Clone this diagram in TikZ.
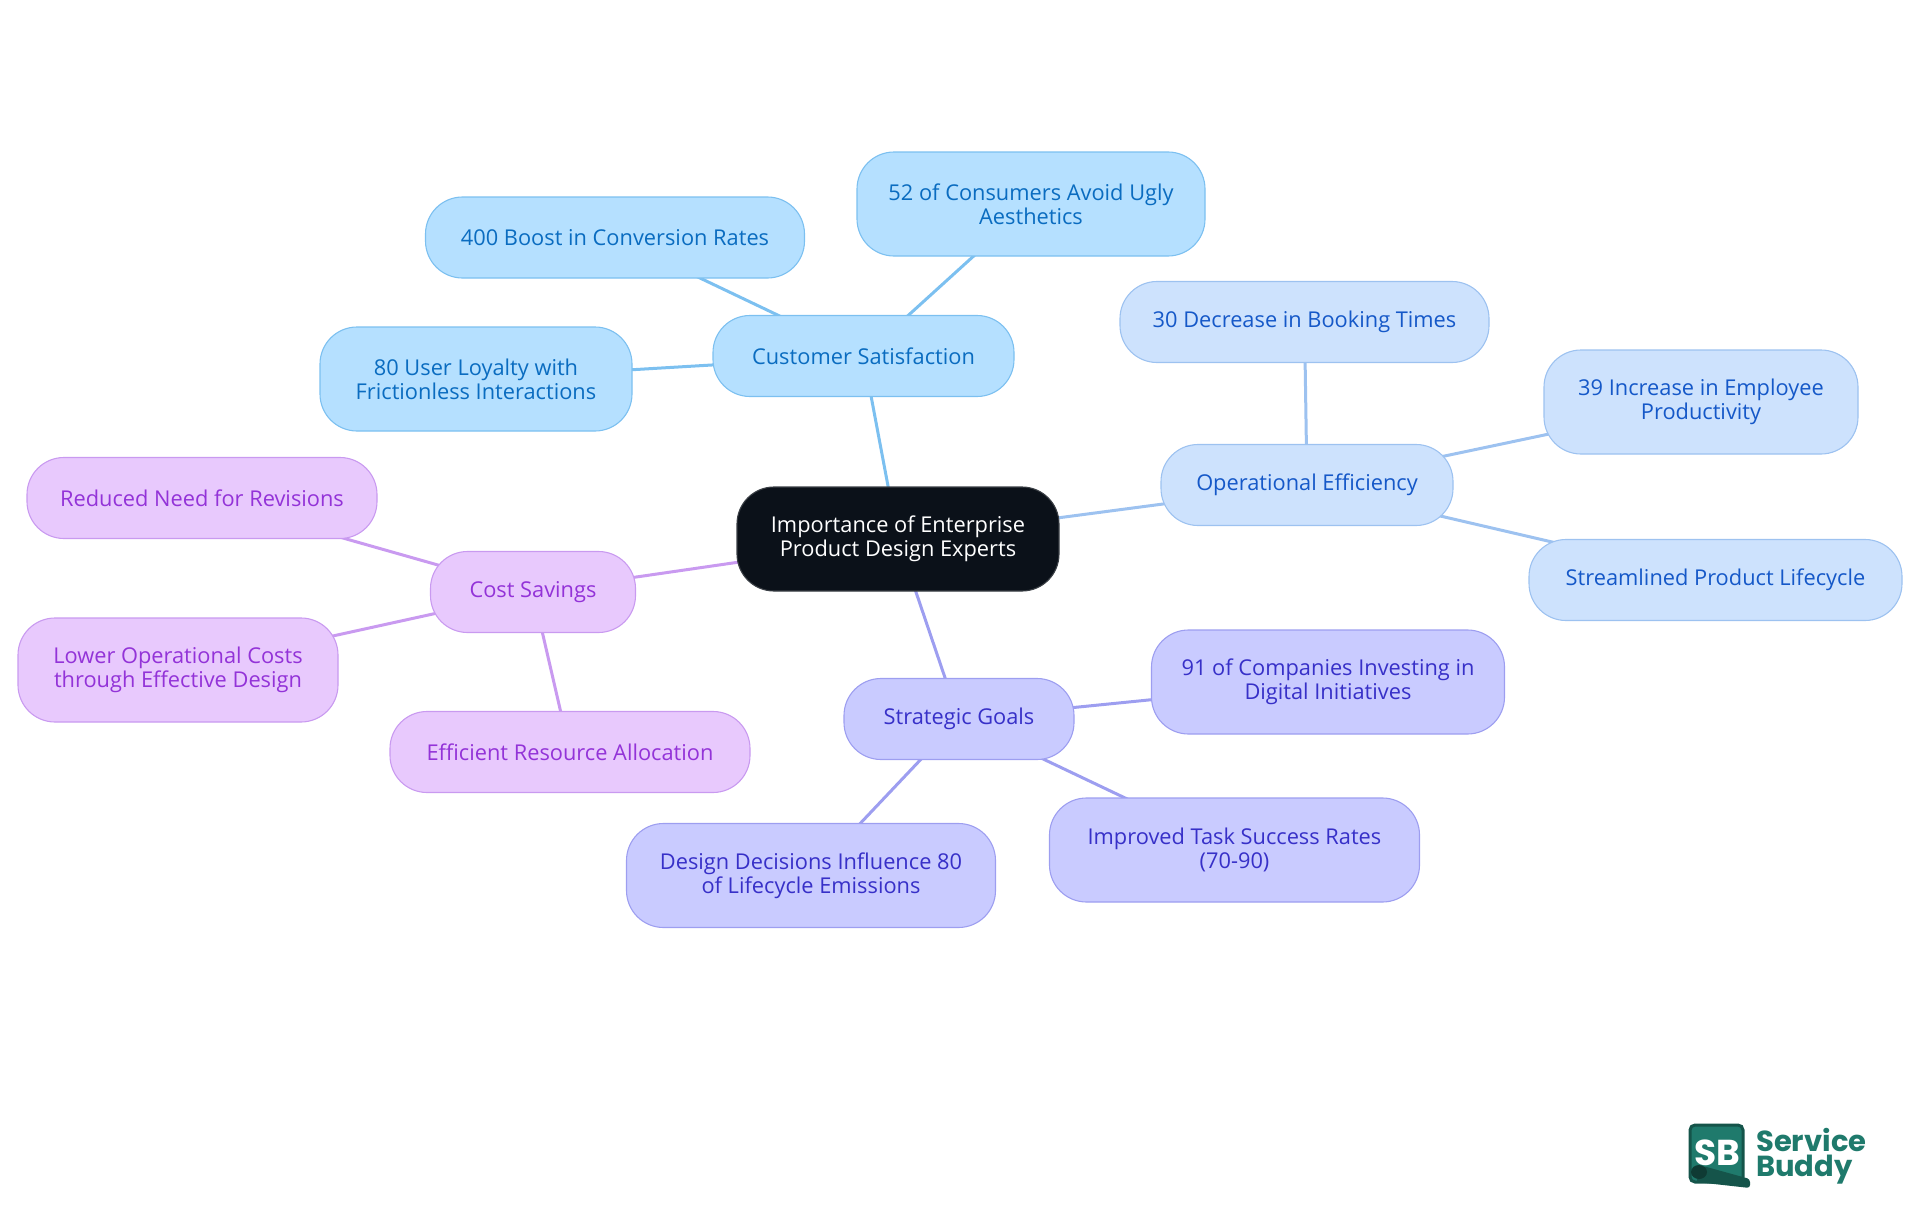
\documentclass[tikz,border=0pt]{standalone}
\usepackage{fontspec}
\usepackage{xcolor}
\usetikzlibrary{positioning,calc,backgrounds}
\setmainfont{Open Sans}
\newfontfamily\logofont{Poppins}
\definecolor{rootfill}{HTML}{0B1119}
\definecolor{rootline}{HTML}{3A3F45}
\definecolor{custfill}{HTML}{B5E0FF}
\definecolor{custline}{HTML}{7CC0F0}
\definecolor{custtext}{HTML}{0A6CC0}
\definecolor{operfill}{HTML}{CDE2FD}
\definecolor{operline}{HTML}{9DC2F0}
\definecolor{opertext}{HTML}{1558C8}
\definecolor{stratfill}{HTML}{C9CBFF}
\definecolor{stratline}{HTML}{9D9EF0}
\definecolor{strattext}{HTML}{3730C8}
\definecolor{costfill}{HTML}{E8C9FD}
\definecolor{costline}{HTML}{C99AF0}
\definecolor{costtext}{HTML}{9333D8}
\definecolor{logogreen}{HTML}{1F7A6C}
\definecolor{logodark}{HTML}{15544A}
\tikzset{
    topic/.style={rectangle, rounded corners=37pt, align=center, inner sep=0pt, line width=1.1pt, font=\fontsize{21.8}{24}\selectfont},
    rootnode/.style={topic, fill=rootfill, draw=rootline, text=white},
    custnode/.style={topic, fill=custfill, draw=custline, text=custtext},
    opernode/.style={topic, fill=operfill, draw=operline, text=opertext},
    stratnode/.style={topic, fill=stratfill, draw=stratline, text=strattext},
    costnode/.style={topic, fill=costfill, draw=costline, text=costtext},
    link/.style={line width=3pt},
    brandtext/.style={text=logogreen, font=\fontsize{29}{29}\logofont\bfseries, inner sep=0pt, anchor=base west}
}

\begin{document}
\begin{tikzpicture}[x=1pt, y=-1pt]
    \useasboundingbox (0,0) rectangle (1920,1215);

    \node[rootnode, minimum width=322pt, minimum height=104pt] (root) at (898,539) {Importance of Enterprise\\Product Design Experts};

    \node[custnode, minimum width=301pt, minimum height=81pt] (customer) at (863.5,356) {Customer Satisfaction};
    \node[custnode, minimum width=348pt, minimum height=104pt] (consumers) at (1031,204) {52 of Consumers Avoid Ugly\\Aesthetics};
    \node[custnode, minimum width=379pt, minimum height=81pt] (conversion) at (615,237.5) {400 Boost in Conversion Rates};
    \node[custnode, minimum width=312pt, minimum height=104pt] (loyalty) at (476,379) {80 User Loyalty with\\Frictionless Interactions};

    \node[opernode, minimum width=292pt, minimum height=81pt] (operational) at (1307,485) {Operational Efficiency};
    \node[opernode, minimum width=369pt, minimum height=81pt] (booking) at (1304.5,322) {30 Decrease in Booking Times};
    \node[opernode, minimum width=314pt, minimum height=104pt] (employee) at (1701,402) {39 Increase in Employee\\Productivity};
    \node[opernode, minimum width=373pt, minimum height=81pt] (lifecycle) at (1715.5,580) {Streamlined Product Lifecycle};

    \node[stratnode, minimum width=230pt, minimum height=81pt] (strategic) at (959,719) {Strategic Goals};
    \node[stratnode, minimum width=353pt, minimum height=104pt] (companies) at (1328,682) {91 of Companies Investing in\\Digital Initiatives};
    \node[stratnode, minimum width=370pt, minimum height=104pt] (task) at (1234.5,850) {Improved Task Success Rates\\(70-90)};
    \node[stratnode, minimum width=369pt, minimum height=104pt] (emissions) at (811,875.5) {Design Decisions Influence 80\\of Lifecycle Emissions};

    \node[costnode, minimum width=205pt, minimum height=81pt] (cost) at (533,592) {Cost Savings};
    \node[costnode, minimum width=350pt, minimum height=81pt] (revisions) at (202,498) {Reduced Need for Revisions};
    \node[costnode, minimum width=320pt, minimum height=104pt] (lower) at (178,670) {Lower Operational Costs\\through Effective Design};
    \node[costnode, minimum width=360pt, minimum height=81pt] (resource) at (570,752) {Efficient Resource Allocation};

    \begin{scope}[on background layer]
        \draw[link, custline] (root.center) -- (customer.center);
        \draw[link, custline] (customer.center) -- (consumers.center);
        \draw[link, custline] (customer.center) -- (conversion.center);
        \draw[link, custline] (customer.center) -- (loyalty.center);
        \draw[link, operline] (root.center) -- (operational.center);
        \draw[link, operline] (operational.center) -- (booking.center);
        \draw[link, operline] (operational.center) -- (employee.center);
        \draw[link, operline] (operational.center) -- (lifecycle.center);
        \draw[link, stratline] (root.center) -- (strategic.center);
        \draw[link, stratline] (strategic.center) -- (companies.center);
        \draw[link, stratline] (strategic.center) -- (task.center);
        \draw[link, stratline] (strategic.center) -- (emissions.center);
        \draw[link, costline] (root.center) -- (cost.center);
        \draw[link, costline] (cost.center) -- (revisions.center);
        \draw[link, costline] (cost.center) -- (lower.center);
        \draw[link, costline] (cost.center) -- (resource.center);
    \end{scope}

    \draw[fill=logogreen, draw=logodark, line width=3pt, rounded corners=5pt] (1690,1125) rectangle (1743,1182);
    \node[text=white, font=\fontsize{36}{36}\logofont\bfseries, inner sep=0pt] (sb) at (1717,1153) {SB};
    \fill[logodark, rounded corners=3pt] (1703,1166) -- (1750,1179) -- (1750,1188) -- (1696,1182) -- cycle;
    \fill[black!30!logodark] (1699,1172) ellipse (8pt and 7pt);
    \node[brandtext] (service) at (1756,1151) {Service};
    \node[brandtext] (buddy) at (1756,1176) {Buddy};
\end{tikzpicture}
\end{document}
